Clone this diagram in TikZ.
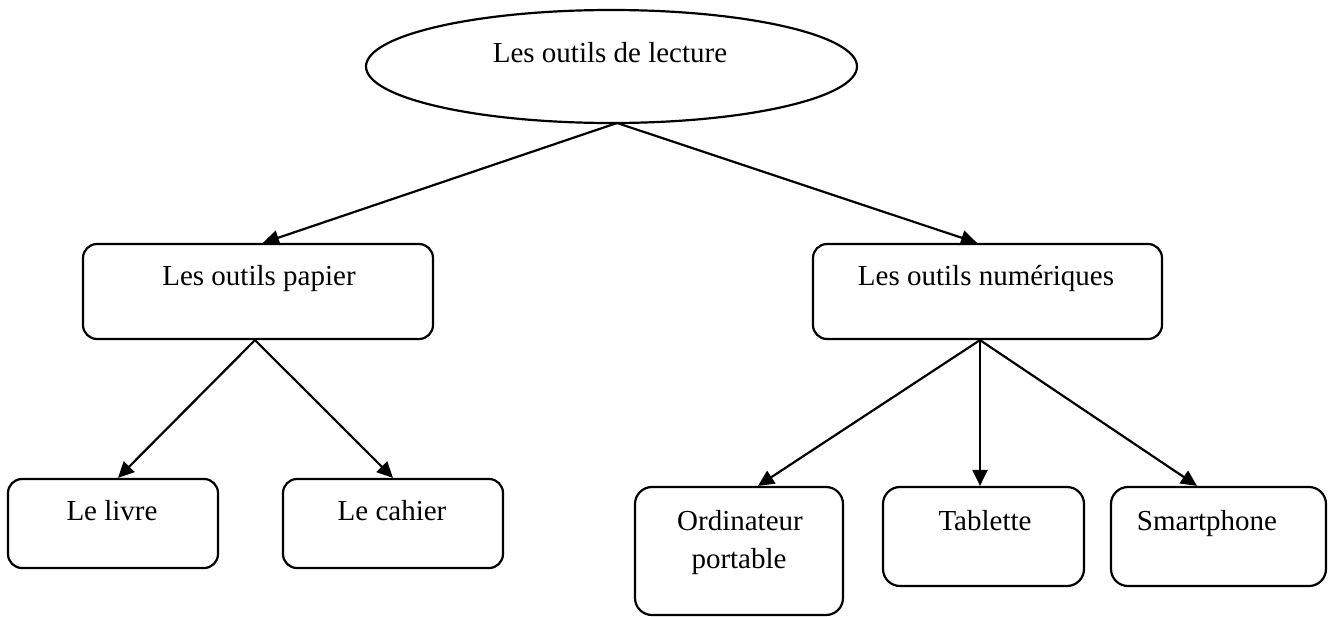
\documentclass[tikz,border=0pt]{standalone}
\usepackage{fontspec}
\setmainfont{Liberation Serif}
\usetikzlibrary{shapes.geometric,arrows.meta}
\begin{document}
\begin{tikzpicture}[x=1pt,y=-1pt,
  box/.style={draw,line width=2.2pt,rounded corners=14pt,inner sep=0pt},
  oval/.style={draw,line width=2.2pt,ellipse,inner sep=0pt},
  lbl/.style={anchor=base,inner sep=0pt,font=\fontsize{29}{34}\selectfont},
  arr/.style={line width=2.2pt,-{Triangle[length=16pt,width=15pt]}}]
\useasboundingbox (0,0) rectangle (1336,616);
% root
\node[oval,minimum width=491pt,minimum height=113pt] (root) at (611.5,66.5) {};
\node[lbl] (troot) at (610,62) {Les outils de lecture};
\coordinate (rs) at (617,123);
% level 1
\node[box,minimum width=350pt,minimum height=95pt] (pap) at (258,291.5) {};
\node[lbl] (tpap) at (259,285) {Les outils papier};
\node[box,minimum width=349pt,minimum height=95pt] (num) at (987.5,291.5) {};
\node[lbl] (tnum) at (986,285) {Les outils numériques};
% level 2 paper
\node[box,minimum width=210pt,minimum height=89pt] (livre) at (113,523.5) {};
\node[lbl] (tlivre) at (112,520) {Le livre};
\node[box,minimum width=220pt,minimum height=89pt] (cahier) at (393,523.5) {};
\node[lbl] (tcahier) at (392,520) {Le cahier};
% level 2 numeric
\node[box,rounded corners=17pt,minimum width=208pt,minimum height=128pt] (ordi) at (739,551) {};
\node[lbl] (tordi1) at (740,530) {Ordinateur};
\node[lbl] (tordi2) at (739,568) {portable};
\node[box,rounded corners=17pt,minimum width=201pt,minimum height=99pt] (tab) at (983.5,536.5) {};
\node[lbl] (ttab) at (985,530) {Tablette};
\node[box,rounded corners=17pt,minimum width=215pt,minimum height=99pt] (smart) at (1218.5,536.5) {};
\node[lbl] (tsmart) at (1207,530) {Smartphone};
% connectors
\draw[arr] (rs) -- (pap.north -| 263,0);
\draw[arr] (rs) -- (num.north -| 977,0);
\draw[arr] ([xshift=-3pt]pap.south) -- ([xshift=5pt]livre.north);
\draw[arr] ([xshift=-3pt]pap.south) -- (cahier.north);
\draw[arr] ([xshift=-7.5pt]num.south) -- (ordi.north -| 758,0);
\draw[arr] ([xshift=-7.5pt]num.south) -- (tab.north -| 980,0);
\draw[arr] ([xshift=-7.5pt]num.south) -- (smart.north -| 1197,0);
\end{tikzpicture}
\end{document}
